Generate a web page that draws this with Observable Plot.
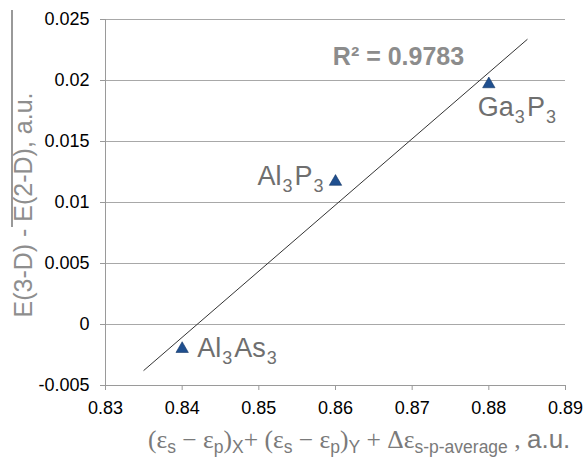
<!DOCTYPE html>
<html>
<head>
<meta charset="utf-8">
<script src="https://cdn.jsdelivr.net/npm/d3@7"></script>
<script src="https://cdn.jsdelivr.net/npm/@observablehq/plot@0.6"></script>
<style>
  html, body { margin: 0; padding: 0; background: #fff; }
  #chart svg { display: block; }
</style>
</head>
<body>
<div id="chart"></div>
<script>
// ---- data ----
const compounds = ["Al3As3", "Al3P3", "Ga3P3"];
const xValues = [0.84, 0.86, 0.88];
const yValues = [-0.002, 0.0117, 0.0197];
const xTicks = [0.83, 0.84, 0.85, 0.86, 0.87, 0.88, 0.89];
const xTickLabels = ["0.83", "0.84", "0.85", "0.86", "0.87", "0.88", "0.89"];
const yTicks = [-0.005, 0, 0.005, 0.01, 0.015, 0.02, 0.025];
const yTickLabels = ["-0.005", "0", "0.005", "0.01", "0.015", "0.02", "0.025"];
const trendXRange = [0.835, 0.885];
const r2Label = "R² = 0.9783";
const yAxisLabel = "E(3-D) - E(2-D), a.u.";

// ---- derived ----
const points = compounds.map((name, i) => ({name, x: xValues[i], y: yValues[i]}));
const mx = d3.mean(xValues), my = d3.mean(yValues);
const slope = d3.sum(xValues.map((x, i) => (x - mx) * (yValues[i] - my))) /
              d3.sum(xValues.map(x => (x - mx) ** 2));
const trend = trendXRange.map(x => ({x, y: my + slope * (x - mx)}));

const gray = "#9a9a9a";
const labelColor = "#6f6f6f";
const labelFont = 27, subFont = 18, subShift = 7;

const plot = Plot.plot({
  width: 583,
  height: 458,
  marginLeft: 105,
  marginRight: 18,
  marginTop: 19,
  marginBottom: 73,
  style: {fontFamily: "'Liberation Sans', Arial, sans-serif", color: "#000", background: "#fff"},
  x: {domain: [0.83, 0.89]},
  y: {domain: [-0.005, 0.025]},
  marks: [
    Plot.gridY(yTicks, {stroke: "#a8a8a8", strokeOpacity: 1}),
    Plot.ruleX([0.83], {stroke: gray}),
    Plot.ruleY([-0.005], {stroke: gray}),
    Plot.axisY(yTicks, {tickFormat: (d, i) => yTickLabels[i], tickSize: 5, tickPadding: 11,
      fontSize: 18, stroke: gray, fill: "#000", label: null}),
    Plot.axisX(xTicks, {tickFormat: (d, i) => xTickLabels[i], tickSize: 5, tickPadding: 11,
      fontSize: 18, stroke: gray, fill: "#000", label: null}),
    Plot.line(trend, {x: "x", y: "y", stroke: "#333", strokeWidth: 1}),
    Plot.dot(points, {x: "x", y: "y", symbol: "triangle", r: 4.6, fill: "#1f4f8f", stroke: "#163866", strokeWidth: 0.6}),
    Plot.text(points.slice(0, 1), {x: "x", y: "y", text: "name", textAnchor: "start", dx: 15, dy: -1,
      fontSize: labelFont, fill: labelColor, className: "cmpd"}),
    Plot.text(points.slice(1, 2), {x: "x", y: "y", text: "name", textAnchor: "end", dx: -12, dy: -5,
      fontSize: labelFont, fill: labelColor, className: "cmpd"}),
    Plot.text(points.slice(2, 3), {x: "x", y: "y", text: "name", textAnchor: "start", dx: -11, dy: 23,
      fontSize: labelFont, fill: labelColor, className: "cmpd"}),
    Plot.text([r2Label], {frameAnchor: "top", text: d => d, dx: 63, dy: 37, lineAnchor: "middle",
      fontSize: 25, fontWeight: "bold", fill: "#8c8c8c"})
  ]
});

const svg = d3.select(plot);

// subscripts in compound labels
svg.selectAll("g.cmpd text").each(function () {
  const el = d3.select(this);
  const s = el.text();
  el.text(null);
  const re = /(\D+)(\d*)/g;
  let m, shifted = false;
  while ((m = re.exec(s)) && m[0].length) {
    el.append("tspan").attr("dy", shifted ? -subShift : null).attr("dx", shifted ? 2 : null).text(m[1]);
    shifted = false;
    if (m[2]) {
      el.append("tspan").attr("font-size", subFont).attr("dy", subShift).attr("dx", 1).text(m[2]);
      shifted = true;
    }
  }
});

// y-axis title (rotated) with its overline rule
svg.append("line")
  .attr("x1", 12).attr("x2", 12).attr("y1", 10).attr("y2", 227)
  .attr("stroke", "#555").attr("stroke-width", 1.2);
svg.append("text")
  .attr("transform", "translate(32,205) rotate(-90)")
  .attr("text-anchor", "middle")
  .attr("font-size", 25)
  .attr("fill", "#8e8e8e")
  .text(yAxisLabel);

// x-axis title with subscripts
const xt = svg.append("text")
  .attr("x", 148).attr("y", 448)
  .attr("text-anchor", "start")
  .attr("fill", "#7a7a7a")
  .attr("font-family", "'Liberation Serif', 'Times New Roman', serif")
  .attr("font-size", 25.5);
const subParts = [
  ["(ε", "s"], [" − ε", "p"], [")", "X"], ["+ (ε", "s"], [" − ε", "p"], [")", "Y"], [" + Δε", "s-p-average"]
];
let down = false;
subParts.forEach(([main, sub]) => {
  xt.append("tspan").attr("dy", down ? -5 : null).text(main);
  xt.append("tspan").attr("dy", 5).attr("font-size", 17.5)
    .attr("font-family", "'Liberation Sans', Arial, sans-serif").text(sub);
  down = true;
});
xt.append("tspan").attr("dy", -5).text(" , ");
xt.append("tspan").attr("font-family", "'Liberation Sans', Arial, sans-serif").attr("font-size", 26).text("a.u.");

document.getElementById("chart").appendChild(plot);
</script>
</body>
</html>
